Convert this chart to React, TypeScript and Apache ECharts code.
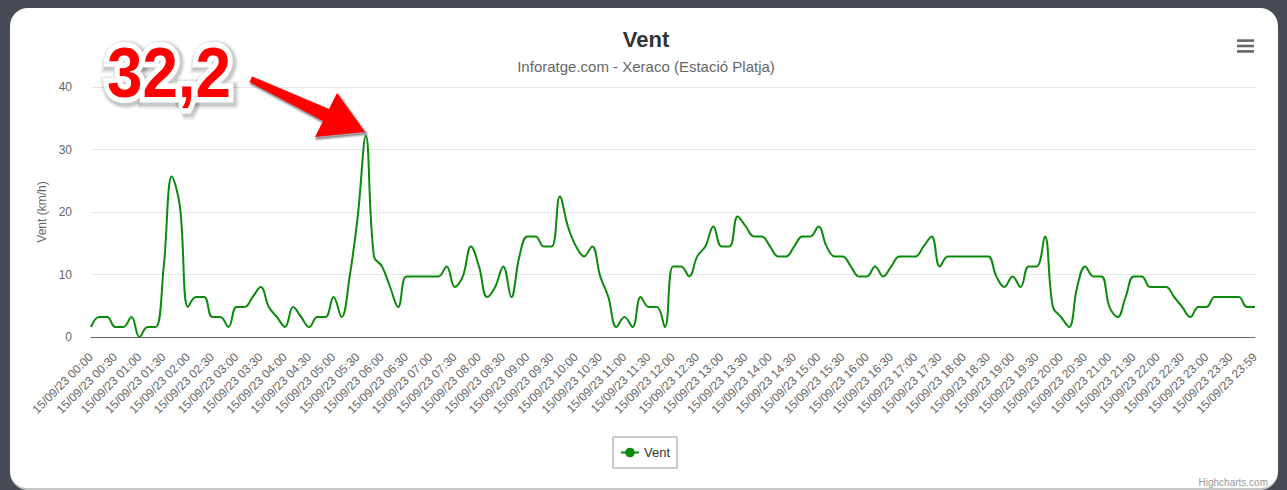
import React, { useEffect, useRef } from "react";
import * as echarts from "echarts";

// 10-minute readings for 15/09/23, last reading at 23:59
const timeSlots: string[] = [];
for (let h = 0; h < 24; h++) {
  for (let m = 0; m < 60; m += 10) {
    timeSlots.push(`15/09/23 ${String(h).padStart(2, "0")}:${String(m).padStart(2, "0")}`);
  }
}
timeSlots.push("15/09/23 23:59");
const categories = timeSlots;

const windValues: number[] = [
  1.6, 3.2, 3.2, 1.6, 1.6, 3.2, 0, 1.6, 1.6, 11.3,
  25.7, 20.9, 4.8, 6.4, 6.4, 3.2, 3.2, 1.6, 4.8, 4.8,
  6.4, 8.0, 4.8, 3.2, 1.6, 4.8, 3.2, 1.6, 3.2, 3.2,
  6.4, 3.2, 9.7, 19.3, 32.2, 12.9, 11.3, 8.0, 4.8, 9.7,
  9.7, 9.7, 9.7, 9.7, 11.3, 8.0, 9.7, 14.5, 11.3, 6.4,
  8.0, 11.3, 6.4, 12.9, 16.1, 16.1, 14.5, 14.5, 22.5, 17.7,
  14.5, 12.9, 14.5, 9.7, 6.4, 1.6, 3.2, 1.6, 6.4, 4.8,
  4.8, 1.6, 11.3, 11.3, 9.7, 12.9, 14.5, 17.7, 14.5, 14.5,
  19.3, 17.7, 16.1, 16.1, 14.5, 12.9, 12.9, 14.5, 16.1, 16.1,
  17.7, 14.5, 12.9, 12.9, 11.3, 9.7, 9.7, 11.3, 9.7, 11.3,
  12.9, 12.9, 12.9, 14.5, 16.1, 11.3, 12.9, 12.9, 12.9, 12.9,
  12.9, 12.9, 9.7, 8.0, 9.7, 8.0, 11.3, 11.3, 16.1, 4.8,
  3.2, 1.6, 8.0, 11.3, 9.7, 9.7, 4.8, 3.2, 6.4, 9.7,
  9.7, 8.0, 8.0, 8.0, 6.4, 4.8, 3.2, 4.8, 4.8, 6.4,
  6.4, 6.4, 6.4, 4.8, 4.8,
];

const yTicks = { min: 0, max: 40, interval: 10 };
const titleText = "Vent";
const subtitleText = "Inforatge.com - Xeraco (Estació Platja)";
const yAxisTitle = "Vent (km/h)";
const seriesName = "Vent";
const peakLabel = "32,2";
const creditText = "Highcharts.com";

const FONT = "'Liberation Sans', Arial, Helvetica, sans-serif";
const GREEN = "#0b8a0b";
const RED = "#ff0000";

const arrowPoints = [
  [252, 76.5],
  [329, 109],
  [337, 93],
  [365, 132],
  [315, 137],
  [323, 121],
  [249.5, 82],
];

function labelText(extra: any, z: number, style: any) {
  return {
    type: "text",
    z,
    x: 107 + (extra.dx || 0),
    y: 72 + (extra.dy || 0),
    scaleX: 0.91,
    style: {
      text: peakLabel,
      font: `bold 70px ${FONT}`,
      textAlign: "left",
      textVerticalAlign: "middle",
      align: "left",
      verticalAlign: "middle",
      lineJoin: "round",
      ...style,
    },
  };
}

export default function App() {
  const ref = useRef<HTMLDivElement>(null);

  useEffect(() => {
    if (!ref.current) return;
    const chart = echarts.init(ref.current, undefined, { renderer: "svg" });

    const shadowLayers = [
      { w: 20, a: 0.05 },
      { w: 17, a: 0.07 },
      { w: 14, a: 0.1 },
    ];
    const textShadow = shadowLayers.map((s, k) =>
      labelText({ dx: 1.5, dy: 2 }, 90 + k, {
        fill: `rgba(0,0,0,${s.a})`,
        stroke: `rgba(0,0,0,${s.a})`,
        lineWidth: s.w,
      })
    );
    const arrowShadow = [
      { w: 4, a: 0.12 },
      { w: 2, a: 0.15 },
    ].map((s, k) => ({
      type: "polygon",
      z: 90 + k,
      x: 1.5,
      y: 2,
      shape: { points: arrowPoints },
      style: {
        fill: `rgba(0,0,0,${s.a})`,
        stroke: `rgba(0,0,0,${s.a})`,
        lineWidth: s.w,
        lineJoin: "round",
      },
    }));

    chart.setOption({
      animation: false,
      backgroundColor: "transparent",
      textStyle: { fontFamily: FONT },
      grid: { left: 91, right: 32, top: 87, bottom: 153, containLabel: false },
      legend: {
        data: [seriesName],
        left: 613,
        top: 437,
        padding: [9, 7],
        borderColor: "#999",
        borderWidth: 1,
        itemWidth: 18,
        itemHeight: 12,
        textStyle: { fontSize: 13, color: "#333", fontFamily: FONT },
      },
      xAxis: {
        type: "category",
        data: categories,
        boundaryGap: false,
        axisLine: { show: true, lineStyle: { color: "#666", width: 1 } },
        axisTick: { show: false },
        axisLabel: {
          interval: 2,
          rotate: 45,
          margin: 18,
          fontSize: 12,
          color: "#666",
          fontFamily: FONT,
        },
        splitLine: { show: false },
      },
      yAxis: {
        type: "value",
        min: yTicks.min,
        max: yTicks.max,
        interval: yTicks.interval,
        name: yAxisTitle,
        nameLocation: "middle",
        nameGap: 43,
        nameTextStyle: { fontSize: 12, color: "#666", fontFamily: FONT },
        axisLine: { show: false },
        axisTick: { show: false },
        axisLabel: { margin: 19, fontSize: 12, color: "#666", fontFamily: FONT },
        splitLine: { lineStyle: { color: "#e6e6e6", width: 1 } },
      },
      series: [
        {
          name: seriesName,
          type: "line",
          data: windValues,
          smooth: 0.4,
          symbol: "circle",
          symbolSize: 8,
          showSymbol: false,
          lineStyle: { color: GREEN, width: 2 },
          itemStyle: { color: GREEN },
          z: 3,
        },
      ],
      graphic: [
        {
          type: "text",
          x: 646,
          y: 39,
          style: {
            text: titleText,
            font: `bold 22px ${FONT}`,
            fill: "#333",
            textAlign: "center",
            textVerticalAlign: "middle",
            align: "center",
            verticalAlign: "middle",
          },
        },
        {
          type: "text",
          x: 646,
          y: 66,
          style: {
            text: subtitleText,
            font: `15px ${FONT}`,
            fill: "#666",
            textAlign: "center",
            textVerticalAlign: "middle",
            align: "center",
            verticalAlign: "middle",
          },
        },
        {
          type: "text",
          x: 1268,
          y: 482,
          style: {
            text: creditText,
            font: `10px ${FONT}`,
            fill: "#999",
            textAlign: "right",
            textVerticalAlign: "middle",
            align: "right",
            verticalAlign: "middle",
          },
        },
        { type: "rect", shape: { x: 1237, y: 39.3, width: 17, height: 2.6 }, style: { fill: "#666" } },
        { type: "rect", shape: { x: 1237, y: 44.7, width: 17, height: 2.6 }, style: { fill: "#666" } },
        { type: "rect", shape: { x: 1237, y: 50.1, width: 17, height: 2.6 }, style: { fill: "#666" } },
        ...arrowShadow,
        {
          type: "polygon",
          z: 100,
          shape: { points: arrowPoints },
          style: { fill: RED },
        },
        ...textShadow,
        labelText({}, 98, { fill: "#fff", stroke: "#fff", lineWidth: 11 }),
        labelText({}, 101, { fill: RED }),
      ],
    });
    return () => chart.dispose();
  }, []);

  return (
    <div
      style={{
        position: "fixed",
        left: 0,
        top: 0,
        width: 1287,
        height: 490,
        background: "#474b55",
        overflow: "hidden",
      }}
    >
      <div
        style={{
          position: "absolute",
          left: 10,
          top: 8,
          width: 1268,
          height: 480,
          background: "#fff",
          borderRadius: 18,
          borderBottom: "2px solid #c8c8c8",
        }}
      />
      <div ref={ref} style={{ position: "absolute", left: 0, top: 0, width: 1287, height: 490 }} />
    </div>
  );
}
